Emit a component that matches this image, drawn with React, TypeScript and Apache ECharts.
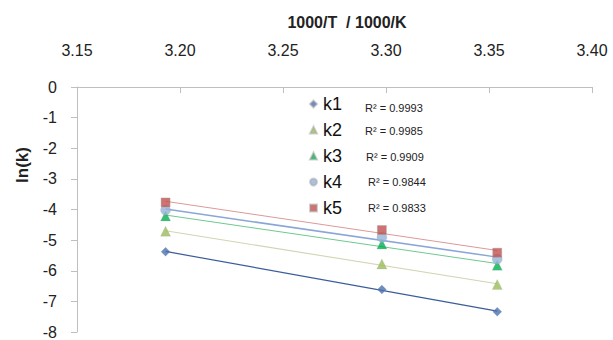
import React, { useEffect, useRef } from "react";
import * as echarts from "echarts";

const invT = [3.193, 3.298, 3.354];
const seriesNames = ["k1", "k2", "k3", "k4", "k5"];
const k1 = [-5.38, -6.61, -7.34];
const k2 = [-4.71, -5.78, -6.45];
const k3 = [-4.21, -5.13, -5.82];
const k4 = [-4.02, -4.91, -5.62];
const k5 = [-3.77, -4.67, -5.41];
const r2Labels = ["R² = 0.9993", "R² = 0.9985", "R² = 0.9909", "R² = 0.9844", "R² = 0.9833"];
const xTicks = { min: 3.15, max: 3.4, interval: 0.05 };
const yTicks = { min: -8, max: 0, interval: 1 };

const allValues = [k1, k2, k3, k4, k5];
const markerColors = ["#4A72B0", "#9BBB59", "#00B050", "#95B3D7", "#C0504D"];
const lineColors = ["#3A5C9A", "#D2D5B2", "#6CCB8E", "#8AA6D6", "#DB9A99"];
const symbols = ["diamond", "triangle", "triangle", "circle", "rect"];
const symbolSizes = [9, 10, 10, 10, 9];
const lineWidths = [1.2, 1.1, 1, 1.5, 1];

function fit(xs: number[], ys: number[]) {
  const n = xs.length;
  const mx = xs.reduce((a, b) => a + b, 0) / n;
  const my = ys.reduce((a, b) => a + b, 0) / n;
  let sxy = 0, sxx = 0;
  for (let i = 0; i < n; i++) {
    sxy += (xs[i] - mx) * (ys[i] - my);
    sxx += (xs[i] - mx) * (xs[i] - mx);
  }
  const b = sxy / sxx;
  const a = my - b * mx;
  const x0 = Math.min(...xs), x1 = Math.max(...xs);
  return [[x0, a + b * x0], [x1, a + b * x1]];
}

const FONT = "Liberation Sans";

export default function App() {
  const ref = useRef<HTMLDivElement>(null);
  useEffect(() => {
    if (!ref.current) return;
    document.body.style.margin = "0";
    const chart = echarts.init(ref.current, null, { renderer: "svg" });
    const series: any[] = [];
    allValues.forEach((vals, i) => {
      series.push({
        name: seriesNames[i] + " trend",
        type: "line",
        data: fit(invT, vals),
        symbol: "none",
        lineStyle: { color: lineColors[i], width: lineWidths[i] },
        z: 2,
        silent: true,
      });
    });
    allValues.forEach((vals, i) => {
      series.push({
        name: seriesNames[i],
        type: "scatter",
        data: invT.map((x, j) => [x, vals[j]]),
        symbol: symbols[i],
        symbolSize: symbolSizes[i],
        itemStyle: {
          color: markerColors[i],
          borderColor: "rgba(160,160,160,0.6)",
          borderWidth: i === 4 ? 0.8 : 0.4,
        },
        z: 3,
      });
    });
    const r2Y = [107.7, 130.5, 156.7, 182.3, 208.3];
    const r2X = [365, 365, 366, 368, 368];
    chart.setOption({
      animation: false,
      textStyle: { fontFamily: FONT },
      grid: { left: 77, right: 21, top: 87, bottom: 8, containLabel: false },
      xAxis: {
        type: "value",
        position: "top",
        min: xTicks.min,
        max: xTicks.max,
        interval: xTicks.interval,
        axisLine: { show: true, onZero: false, lineStyle: { color: "#BFBFBF", width: 1 } },
        axisTick: { show: true, inside: true, length: 6, lineStyle: { color: "#BFBFBF" } },
        axisLabel: {
          margin: 29,
          fontSize: 16,
          color: "#222",
          fontFamily: FONT,
          formatter: (v: number) => v.toFixed(2),
        },
        splitLine: { show: false },
      },
      yAxis: {
        type: "value",
        min: yTicks.min,
        max: yTicks.max,
        interval: yTicks.interval,
        axisLine: { show: true, onZero: false, lineStyle: { color: "#BFBFBF", width: 1 } },
        axisTick: { show: true, inside: false, length: 6, lineStyle: { color: "#BFBFBF" } },
        axisLabel: { margin: 20, fontSize: 16, color: "#222", fontFamily: FONT },
        splitLine: { show: false },
      },
      legend: {
        data: seriesNames,
        orient: "vertical",
        left: 309,
        top: 94,
        itemWidth: 7,
        itemHeight: 7,
        itemGap: 6,
        padding: 0,
        textStyle: { fontSize: 18, lineHeight: 20, color: "#111", fontFamily: FONT, padding: [0, 0, 0, 1] },
        selectedMode: false,
      },
      graphic: [
        {
          type: "text",
          x: 347,
          y: 22,
          style: {
            text: "1000/T  / 1000/K",
            fontSize: 16,
            fontWeight: "bold",
            fontFamily: FONT,
            fill: "#222",
            textAlign: "center",
            textVerticalAlign: "middle",
          },
        },
        {
          type: "text",
          x: 22,
          y: 165,
          rotation: Math.PI / 2,
          style: {
            text: "ln(k)",
            fontSize: 17,
            fontWeight: "bold",
            fontFamily: FONT,
            fill: "#222",
            textAlign: "center",
            textVerticalAlign: "middle",
          },
        },
        ...r2Labels.map((t, i) => ({
          type: "text",
          x: r2X[i],
          y: r2Y[i],
          style: {
            text: t,
            fontSize: 11,
            fontFamily: FONT,
            fill: "#222",
            textAlign: "left",
            textVerticalAlign: "middle",
          },
        })),
      ],
      series,
    });
    return () => chart.dispose();
  }, []);
  return <div ref={ref} style={{ width: 613, height: 340 }} />;
}
